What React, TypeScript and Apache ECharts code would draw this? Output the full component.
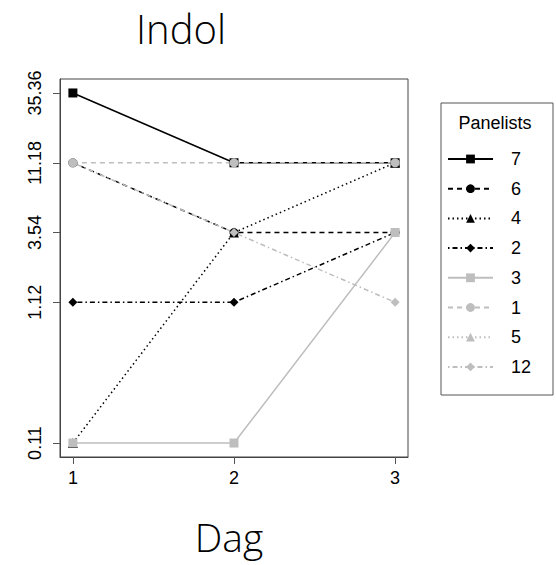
import React, { useEffect, useRef } from "react";
import * as echarts from "echarts";

const days = [1, 2, 3];
const yTickLabels = ["0.11", "1.12", "3.54", "11.18", "35.36"];
const panelists = ["7", "6", "4", "2", "3", "1", "5", "12"];

const p7 = [35.36, 11.18, 11.18];
const p6 = [11.18, 3.54, 3.54];
const p4 = [0.11, 3.54, 11.18];
const p2 = [1.12, 1.12, 3.54];
const p3 = [0.11, 0.11, 3.54];
const p1 = [11.18, 11.18, 11.18];
const p5: (number | null)[] = [null, null, null];
const p12 = [11.18, 3.54, 1.12];

const seriesValues = [p7, p6, p4, p2, p3, p1, p5, p12];

const BLACK = "#000000";
const GREY = "#bebebe";
const colors = [BLACK, BLACK, BLACK, BLACK, GREY, GREY, GREY, GREY];
const symbols = ["rect", "circle", "triangle", "diamond", "rect", "circle", "triangle", "diamond"];
const symbolSizes = [9, 9, 10, 9, 9, 9, 10, 9];
const dashes: any[] = [
  "solid",
  [5, 4],
  [1.5, 3],
  [1.5, 3, 5, 3],
  "solid",
  [5, 4],
  [1.5, 3],
  [1.5, 3, 5, 3],
];

const FONT = "Liberation Sans, Arial, sans-serif";

export default function App() {
  const ref = useRef<HTMLDivElement>(null);
  useEffect(() => {
    if (!ref.current) return;
    const chart = echarts.init(ref.current, null, { renderer: "svg" });
    const yTicks = yTickLabels.map((s) => Math.log10(parseFloat(s)));
    const yMin = yTicks[0] - 0.1;
    const yMax = yTicks[yTicks.length - 1] + 0.1;
    const xMin = days[0] - 0.08;
    const xMax = days[days.length - 1] + 0.08;

    const series = panelists.map((name, i) => ({
      name,
      type: "line",
      data: days.map((d, j) => {
        const v = seriesValues[i][j];
        return [d, v == null ? null : Math.log10(v)];
      }),
      symbol: symbols[i],
      symbolSize: symbolSizes[i],
      showAllSymbol: true,
      color: colors[i],
      itemStyle: { color: colors[i] },
      lineStyle: { color: colors[i], width: 1.5, type: dashes[i] },
      emphasis: { disabled: true },
      connectNulls: false,
    }));

    chart.setOption({
      animation: false,
      grid: {
        left: 60,
        top: 79,
        width: 348,
        height: 378,
        show: true,
        borderColor: "#444",
        borderWidth: 1,
        containLabel: false,
      },
      xAxis: {
        type: "value",
        min: xMin,
        max: xMax,
        axisLine: { show: true, onZero: false, lineStyle: { color: "#444" } },
        splitLine: { show: false },
        axisTick: {
          show: true,
          length: 7,
          customValues: days,
          lineStyle: { color: "#555" },
        },
        axisLabel: {
          customValues: days,
          fontSize: 18,
          fontFamily: FONT,
          color: "#000",
          margin: 12,
        },
      },
      yAxis: {
        type: "value",
        min: yMin,
        max: yMax,
        axisLine: { show: true, onZero: false, lineStyle: { color: "#444" } },
        splitLine: { show: false },
        axisTick: {
          show: true,
          length: 7,
          customValues: yTicks,
          lineStyle: { color: "#555" },
        },
        axisLabel: {
          customValues: yTicks,
          rotate: 90,
          fontSize: 18,
          fontFamily: FONT,
          color: "#000",
          margin: 16,
          formatter: (v: number) => {
            let best = 0;
            yTicks.forEach((t, k) => {
              if (Math.abs(t - v) < Math.abs(yTicks[best] - v)) best = k;
            });
            return yTickLabels[best];
          },
        },
      },
      legend: {
        orient: "vertical",
        left: 447,
        top: 150,
        padding: 0,
        itemWidth: 45,
        itemHeight: 11,
        itemGap: 11.7,
        data: panelists,
        selectedMode: false,
        textStyle: {
          fontSize: 18,
          fontFamily: FONT,
          color: "#000",
          lineHeight: 18,
          padding: [0, 0, 0, 13],
        },
      },
      graphic: [
        {
          type: "rect",
          shape: { x: 441, y: 103, width: 112, height: 292 },
          style: { fill: "none", stroke: "#555", lineWidth: 1 },
        },
        {
          type: "text",
          x: 495,
          y: 123,
          style: {
            text: "Panelists",
            fontSize: 18,
            fontFamily: FONT,
            fill: "#000",
            textAlign: "center",
            textVerticalAlign: "middle",
          },
        },
        {
          type: "text",
          x: 181,
          y: 28,
          style: {
            text: "Indol",
            fontSize: 40,
            fontWeight: 300,
            fontFamily: "Open Sans, Noto Sans, sans-serif",
            fill: "#000",
            textAlign: "center",
            textVerticalAlign: "middle",
          },
        },
        {
          type: "text",
          x: 229,
          y: 536,
          style: {
            text: "Dag",
            fontSize: 39,
            fontWeight: 300,
            fontFamily: "Open Sans, Noto Sans, sans-serif",
            fill: "#000",
            textAlign: "center",
            textVerticalAlign: "middle",
          },
        },
      ],
      series,
    });
    return () => chart.dispose();
  }, []);
  return <div ref={ref} style={{ width: 556, height: 565, position: "absolute", left: 0, top: 0 }} />;
}
